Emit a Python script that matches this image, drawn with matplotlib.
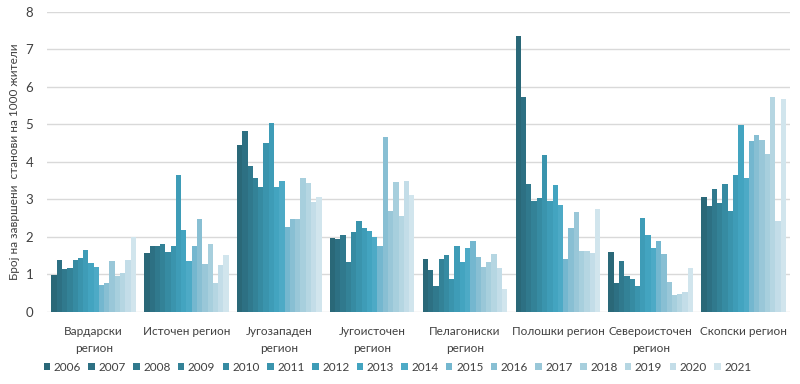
import matplotlib.pyplot as plt
import numpy as np

plt.rcParams['font.family'] = ['Lato', 'Noto Sans', 'DejaVu Sans']

regions = ['Вардарски\nрегион', 'Источен регион', 'Југозападен\nрегион', 'Југоисточен\nрегион',
           'Пелагониски\nрегион', 'Полошки регион', 'Североисточен\nрегион', 'Скопски регион']
years = [str(y) for y in range(2006, 2022)]

# values per region, 2006..2021
vardarski = [0.98, 1.39, 1.14, 1.17, 1.39, 1.45, 1.66, 1.30, 1.21, 0.72, 0.77, 1.37, 0.95, 1.04, 1.39, 2.00]
istochen = [1.57, 1.77, 1.75, 1.82, 1.61, 1.77, 3.65, 2.19, 1.36, 1.77, 2.48, 1.28, 1.80, 0.77, 1.24, 1.52]
jugozapaden = [4.45, 4.82, 3.90, 3.56, 3.34, 4.51, 5.05, 3.34, 3.48, 2.26, 2.48, 2.48, 3.58, 3.43, 2.93, 3.07]
jugoistochen = [1.96, 1.94, 2.04, 1.32, 2.12, 2.43, 2.23, 2.17, 2.00, 1.77, 4.66, 2.68, 3.46, 2.56, 3.48, 3.11]
pelagoniski = [1.41, 1.13, 0.70, 1.41, 1.53, 0.89, 1.77, 1.34, 1.71, 1.90, 1.47, 1.20, 1.34, 1.54, 1.18, 0.61]
poloshki = [7.35, 5.73, 3.41, 2.95, 3.04, 4.19, 2.95, 3.38, 2.84, 1.40, 2.23, 2.67, 1.63, 1.62, 1.57, 2.75]
severoistochen = [1.59, 0.77, 1.37, 0.97, 0.87, 0.69, 2.51, 2.06, 1.71, 1.88, 1.55, 0.80, 0.45, 0.48, 0.53, 1.17]
skopski = [3.07, 2.82, 3.27, 2.91, 3.40, 2.68, 3.65, 4.99, 3.56, 4.56, 4.71, 4.59, 4.22, 5.72, 2.43, 5.69]

data = np.array([vardarski, istochen, jugozapaden, jugoistochen,
                 pelagoniski, poloshki, severoistochen, skopski])

colors = ['#2a6878', '#2d7083', '#30798d', '#338297', '#368ba2', '#3a94ad', '#3e9cb7', '#43a4c0',
          '#4daac6', '#74b7cf', '#88bfd3', '#99c7d8', '#a7cfdd', '#b5d6e2', '#c3dde8', '#d1e5ed']

fig, ax = plt.subplots()
fig.set_size_inches(8, 3.84)
fig.subplots_adjust(left=0.059, right=0.9875, top=0.969, bottom=0.1875)

x = np.arange(len(regions))
n = len(years)
bw = 0.91 / n
for i in range(n):
    ax.bar(x - 0.455 + bw * (i + 0.5), data[:, i], width=bw, color=colors[i],
           label=years[i], linewidth=0)

ax.set_xlim(-0.5, len(regions) - 0.5)
ax.set_ylim(0, 8)
ax.set_yticks(range(0, 9))
ax.yaxis.grid(True, color='#d9d9d9', linewidth=1)
ax.set_axisbelow(True)
for s in ax.spines.values():
    s.set_visible(False)
ax.tick_params(axis='both', length=0, labelsize=8.5, colors='#404040')
ax.tick_params(axis='y', labelsize=9.5, pad=10)
ax.tick_params(axis='x', pad=10)
ax.set_xticks(x)
ax.set_xticklabels(regions, linespacing=1.7)
ax.set_ylabel('Број на завршени  станови на 1000 жители', fontsize=8.5, color='#404040', labelpad=4)

fig.legend(loc='center', bbox_to_anchor=(0.497, 0.043), ncol=n, frameon=False,
           fontsize=8.5, handlelength=0.55, handleheight=0.55, handletextpad=0.3,
           columnspacing=0.62, labelcolor='#404040')

plt.savefig('out.png', dpi=100)
plt.close()
